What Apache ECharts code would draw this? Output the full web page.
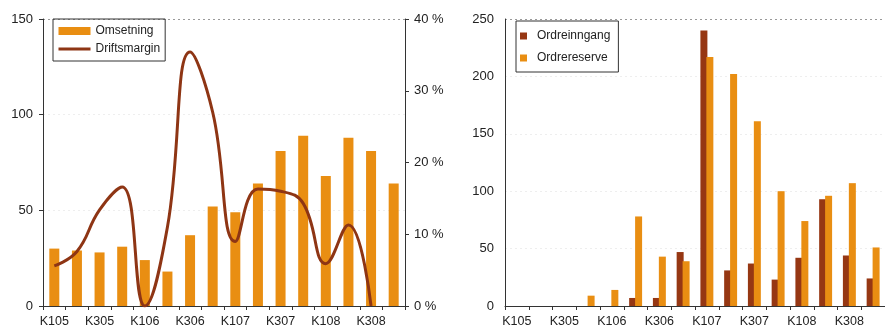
<!DOCTYPE html>
<html>
<head>
<meta charset="utf-8">
<script src="https://cdn.jsdelivr.net/npm/echarts@6/dist/echarts.min.js"></script>
<style>
html,body{margin:0;padding:0;background:#fff;}
#c{width:885px;height:329px;}
</style>
</head>
<body>
<div id="c"></div>
<script>
const categories = ['K105','K205','K305','K405','K106','K206','K306','K406','K107','K207','K307','K407','K108','K208','K308','K408'];
const omsetning = [30, 29, 28, 31, 24, 18, 37, 52, 49, 64, 81, 89, 68, 88, 81, 64];
const driftsmargin = [5.6, 7.6, 13.4, 16.6, 0, 11, 35.4, 27, 9, 16.3, 16, 14.3, 5.9, 11.3, 0, null];
const ordreinngang = [0, 0, 0, 0, 0, 7, 7, 47, 240, 31, 37, 23, 42, 93, 44, 24];
const ordrereserve = [0, 0, 0, 9, 14, 78, 43, 39, 217, 202, 161, 100, 74, 96, 107, 51];
const leftTicks = [0, 50, 100, 150];
const pctTicks = [0, 10, 20, 30, 40];
const rightTicks = [0, 50, 100, 150, 200, 250];

const ORANGE = '#E98E12';
const BROWN = '#963713';
const LINE = '#8E3514';
const FONT = 'Liberation Sans, Arial, sans-serif';
const TXT = '#222';

const chart = echarts.init(document.getElementById('c'));
const catAxisBase = {
  type: 'category',
  data: categories,
  boundaryGap: true,
  axisLine: {show: true, lineStyle: {color: '#333', width: 1}},
  axisTick: {show: true, interval: 0, length: 4, lineStyle: {color: '#333'}},
  axisLabel: {interval: 1, color: TXT, fontSize: 12.5, fontFamily: FONT, margin: 9}
};
chart.setOption({
  animation: false,
  textStyle: {fontFamily: FONT},
  grid: [
    {left: 43, right: 480, top: 19, bottom: 23, containLabel: false},
    {left: 505, right: -9, top: 19, bottom: 23, containLabel: false}
  ],
  legend: [
    {
      data: [{name: 'Omsetning', icon: 'rect'}, {name: 'Driftsmargin', itemStyle: {opacity: 0}, lineStyle: {width: 3, color: LINE}}],
      orient: 'vertical', left: 53, top: 19,
      borderColor: '#333', borderWidth: 1, padding: [6, 5, 6, 4],
      itemWidth: 32, itemHeight: 8, itemGap: 6,
      textStyle: {color: TXT, fontSize: 12, fontFamily: FONT}
    },
    {
      data: [{name: 'Ordreinngang', icon: 'rect'}, {name: 'Ordrereserve', icon: 'rect'}],
      orient: 'vertical', left: 516, top: 21,
      borderColor: '#333', borderWidth: 1, padding: [9, 8, 8, 4],
      itemWidth: 7, itemHeight: 7, itemGap: 10,
      textStyle: {color: TXT, fontSize: 12, fontFamily: FONT, padding: [0, 0, 0, 5]}
    }
  ],
  xAxis: [
    Object.assign({gridIndex: 0}, catAxisBase),
    Object.assign({gridIndex: 1}, catAxisBase)
  ],
  yAxis: [
    {
      type: 'value', gridIndex: 0, min: leftTicks[0], max: leftTicks[leftTicks.length - 1], interval: 50,
      axisLine: {show: true, lineStyle: {color: '#333'}},
      axisTick: {show: true, length: 4, lineStyle: {color: '#333'}},
      axisLabel: {color: TXT, fontSize: 13, fontFamily: FONT, margin: 10},
      splitLine: {show: true, lineStyle: {color: ['#ddd', '#eee', '#eee', '#999'], type: [2, 3]}}
    },
    {
      type: 'value', gridIndex: 0, position: 'right', min: pctTicks[0], max: pctTicks[pctTicks.length - 1], interval: 10,
      axisLine: {show: true, lineStyle: {color: '#333'}},
      axisTick: {show: true, length: 4, lineStyle: {color: '#333'}},
      axisLabel: {color: TXT, fontSize: 13, fontFamily: FONT, margin: 9, formatter: '{value} %'},
      splitLine: {show: false}
    },
    {
      type: 'value', gridIndex: 1, min: rightTicks[0], max: rightTicks[rightTicks.length - 1], interval: 50,
      axisLine: {show: true, lineStyle: {color: '#333'}},
      axisTick: {show: false},
      axisLabel: {color: TXT, fontSize: 13, fontFamily: FONT, margin: 11},
      splitLine: {show: true, lineStyle: {color: ['#ddd', '#eee', '#eee', '#eee', '#eee', '#999'], type: [2, 3]}}
    }
  ],
  series: [
    {
      name: 'Omsetning', type: 'bar', xAxisIndex: 0, yAxisIndex: 0,
      data: omsetning, barWidth: 10, itemStyle: {color: ORANGE}
    },
    {
      name: 'Driftsmargin', type: 'line', xAxisIndex: 0, yAxisIndex: 1,
      data: driftsmargin, smooth: 0.45, symbol: 'none', connectNulls: false,
      lineStyle: {color: LINE, width: 3}, itemStyle: {color: LINE}
    },
    {
      name: 'Ordreinngang', type: 'bar', xAxisIndex: 1, yAxisIndex: 2,
      data: ordreinngang, barWidth: 7, barGap: '-15%', itemStyle: {color: BROWN}
    },
    {
      name: 'Ordrereserve', type: 'bar', xAxisIndex: 1, yAxisIndex: 2,
      data: ordrereserve, barWidth: 7, barGap: '-15%', itemStyle: {color: ORANGE}
    }
  ]
});
</script>
</body>
</html>
